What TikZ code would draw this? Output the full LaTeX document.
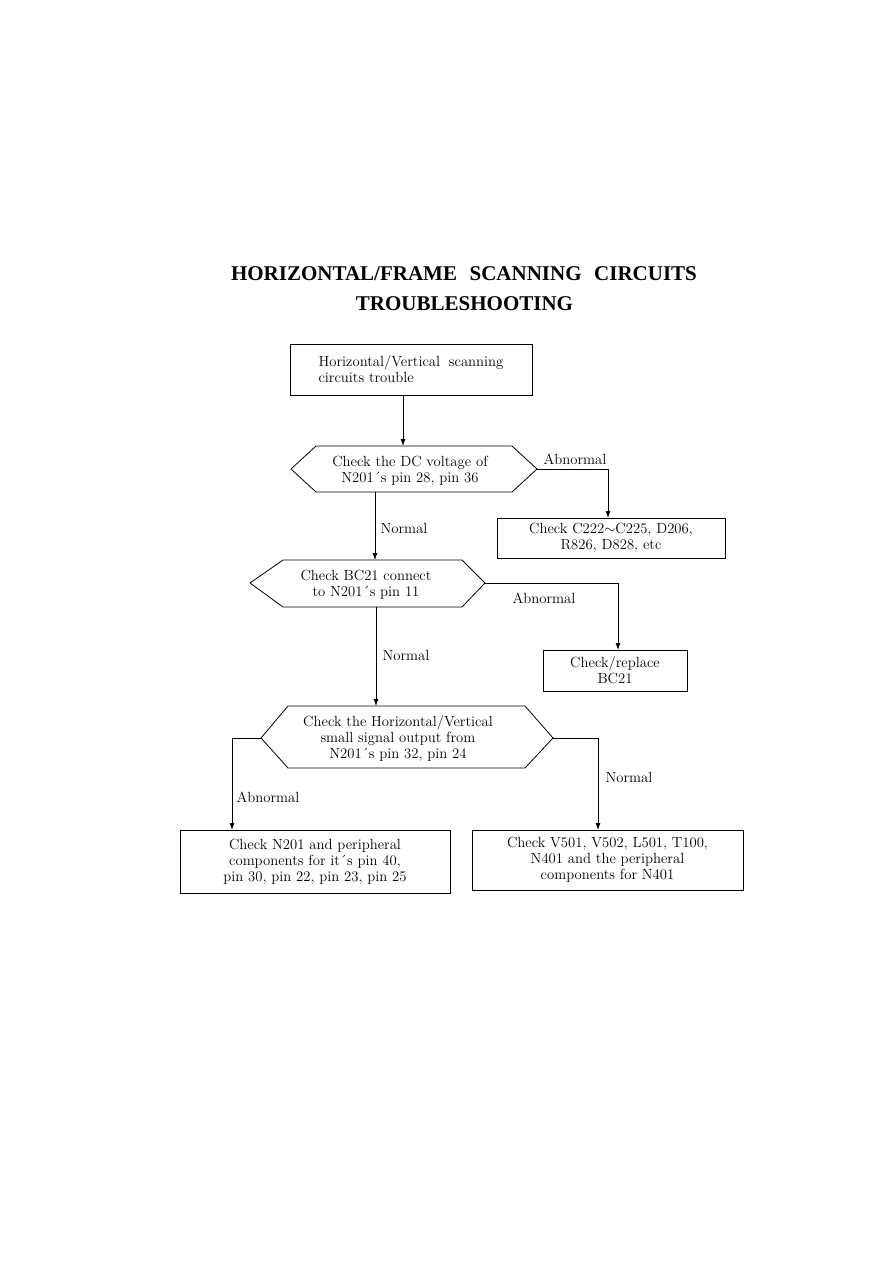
\documentclass[tikz,border=0pt]{standalone}
\usepackage{fontspec}
\newfontfamily\titlefont{Liberation Serif}
\usetikzlibrary{arrows.meta}
\begin{document}
\begin{tikzpicture}[x=1pt,y=-1pt,
  line width=0.8pt,
  txt/.style={font=\fontsize{14.7}{16}\selectfont, inner sep=0pt, align=center},
  box/.style={txt, draw, line width=0.8pt},
  hexline/.style={draw, line width=0.8pt, line join=miter},
  lbl/.style={font=\fontsize{14.7}{16}\selectfont, inner sep=0pt},
  arr/.style={-{Latex[length=7pt,width=5pt]}, line width=0.8pt}]
\useasboundingbox (0,0) rectangle (893,1263);

% title
\node[font=\titlefont\bfseries\fontsize{21}{25}\selectfont, inner sep=0pt] (t1) at (464,274)
  {HORIZONTAL/FRAME\hspace{0.6em}SCANNING\hspace{0.6em}CIRCUITS};
\node[font=\titlefont\bfseries\fontsize{21}{25}\selectfont, inner sep=0pt] (t2) at (464.5,304)
  {TROUBLESHOOTING};

% top box
\node[box, align=left, minimum width=242pt, minimum height=51pt] (top) at (411,369.5)
  {Horizontal/Vertical\hspace{0.6em}scanning\\circuits trouble};

% hexagon 1
\coordinate (h1l) at (291,469);
\coordinate (h1r) at (537,469);
\coordinate (h1t) at (403,446);
\coordinate (h1b) at (375,492);
\draw[hexline] (h1l) -- (316,446) -- (512,446) -- (h1r) -- (512,492) -- (316,492) -- cycle;
\node[txt] (h1) at (410,471) {Check the DC voltage of\\N201´s pin 28, pin 36};

% box C222
\node[box, minimum width=228pt, minimum height=40pt] (c222) at (611,538)
  {Check C222$\sim$C225, D206,\\R826, D828, etc};
\coordinate (c222in) at (608,518);

% hexagon 2
\coordinate (h2l) at (250,583);
\coordinate (h2r) at (485,583);
\coordinate (h2t) at (375,560);
\coordinate (h2b) at (376,607);
\draw[hexline] (h2l) -- (283,560) -- (462,560) -- (h2r) -- (462,607) -- (283,607) -- cycle;
\node[txt] (h2) at (366,585) {Check BC21 connect\\to N201´s pin 11};

% box BC21
\node[box, minimum width=144pt, minimum height=41pt] (bc21) at (615,670.5)
  {Check/replace\\BC21};
\coordinate (bc21in) at (618,650);

% hexagon 3
\coordinate (h3l) at (261,738);
\coordinate (h3r) at (553,738);
\coordinate (h3t) at (376,706);
\draw[hexline] (h3l) -- (288,706) -- (525,706) -- (h3r) -- (525,768) -- (288,768) -- cycle;
\node[txt] (h3) at (398,738) {Check the Horizontal/Vertical\\small signal output from\\N201´s pin 32, pin 24};

% bottom boxes
\node[box, minimum width=270pt, minimum height=63pt] (bl) at (315,861.5)
  {Check N201 and peripheral\\components for it´s pin 40,\\pin 30, pin 22, pin 23, pin 25};
\coordinate (blin) at (232,830);
\node[box, minimum width=271pt, minimum height=60pt] (br) at (607.5,860)
  {Check V501, V502, L501, T100,\\N401 and the peripheral\\components for N401};
\coordinate (brin) at (598,830);

% connectors
\draw[arr] (top.south -| h1t) -- (h1t);
\draw[arr] (h1r) -| (c222in);
\draw[arr] (h1b) -- (h2t);
\draw[arr] (h2r) -| (bc21in);
\draw[arr] (h2b) -- (h3t);
\draw[arr] (h3l) -| (blin);
\draw[arr] (h3r) -| (brin);

% labels
\node[lbl] (l1) at (575,459) {Abnormal};
\node[lbl] (l2) at (404,528) {Normal};
\node[lbl] (l3) at (544,598) {Abnormal};
\node[lbl] (l4) at (406,655) {Normal};
\node[lbl] (l5) at (268,797) {Abnormal};
\node[lbl] (l6) at (629,777) {Normal};
\end{tikzpicture}
\end{document}
